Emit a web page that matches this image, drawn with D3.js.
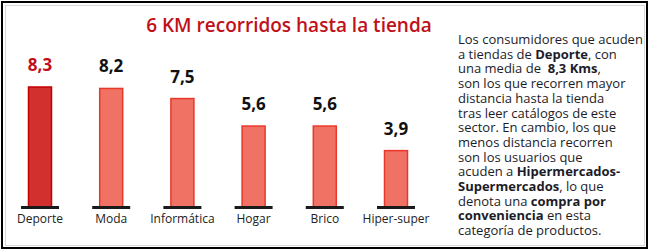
<!DOCTYPE html>
<html>
<head>
<meta charset="utf-8">
<script src="https://cdn.jsdelivr.net/npm/d3@7"></script>
<style>
  html, body { margin: 0; padding: 0; background: #fff; }
  svg { display: block; }
</style>
</head>
<body>
<svg id="chart" width="650" height="252"></svg>
<script>
const categories = ["Deporte", "Moda", "Informática", "Hogar", "Brico", "Hiper-super"];
const values = [8.3, 8.2, 7.5, 5.6, 5.6, 3.9];
const valueLabels = ["8,3", "8,2", "7,5", "5,6", "5,6", "3,9"];
const highlight = ["Deporte"];
const title = "6 KM recorridos hasta la tienda";
const noteLines = [
  [["Los consumidores que acuden", 0]],
  [["a tiendas de ", 0], ["Deporte", 1], [", con", 0]],
  [["una media de  ", 0], ["8,3 Kms", 1], [",", 0]],
  [["son los que recorren mayor", 0]],
  [["distancia hasta la tienda", 0]],
  [["tras leer catálogos de este", 0]],
  [["sector. En cambio, los que", 0]],
  [["menos distancia recorren", 0]],
  [["son los usuarios que", 0]],
  [["acuden a ", 0], ["Hipermercados-", 1]],
  [["Supermercados", 1], [", lo que", 0]],
  [["denota una ", 0], ["compra por", 1]],
  [["conveniencia", 1], [" en esta", 0]],
  [["categoría de productos.", 0]]
];

const svg = d3.select("#chart");
const font = "'Open Sans', sans-serif";

// frame
svg.append("rect").attr("x", 2).attr("y", 2).attr("width", 645).attr("height", 246)
  .attr("fill", "#fff").attr("stroke", "#000").attr("stroke-width", 2);
svg.append("rect").attr("x", 5.5).attr("y", 5.5).attr("width", 639).attr("height", 240)
  .attr("fill", "none").attr("stroke", "#d8d8d8").attr("stroke-width", 1);

// title
svg.append("text").attr("x", 289).attr("y", 32).attr("text-anchor", "middle")
  .attr("font-family", font).attr("font-weight", 600).attr("font-size", 19)
  .attr("fill", "#c0101a").text(title);

const x = d3.scalePoint().domain(categories).range([40, 396]);
const y = d3.scaleLinear().domain([0, 8.3]).range([207, 87]);
const barW = 23;

const g = svg.append("g");
categories.forEach((c, i) => {
  const hi = highlight.includes(c);
  g.append("rect")
    .attr("x", x(c) - barW / 2).attr("y", y(values[i]))
    .attr("width", barW).attr("height", y(0) - y(values[i]))
    .attr("fill", hi ? "#d22f2f" : "#ef7264")
    .attr("stroke", hi ? "#c40000" : "#e8382a").attr("stroke-width", 1.5);
  g.append("line")
    .attr("x1", x(c) - 19).attr("x2", x(c) + 19)
    .attr("y1", y(0) + 0.5).attr("y2", y(0) + 0.5)
    .attr("stroke", "#1a1a1a").attr("stroke-width", 3);
  g.append("text").attr("x", x(c)).attr("y", y(values[i]) - 16)
    .attr("text-anchor", "middle").attr("font-family", font)
    .attr("font-weight", 700).attr("font-size", 17)
    .attr("fill", hi ? "#c0101a" : "#111").text(valueLabels[i]);
  g.append("text").attr("x", x(c)).attr("y", 223)
    .attr("text-anchor", "middle").attr("font-family", font)
    .attr("font-size", 12).attr("fill", "#222").text(c);
});

// note text, one text element per line
const note = svg.append("g").attr("font-family", font).attr("font-size", 13)
  .attr("fill", "#1c1c28");
noteLines.forEach((line, li) => {
  const t = note.append("text").attr("x", 458).attr("y", 44 + li * 14.7)
    .attr("xml:space", "preserve").style("white-space", "pre");
  line.forEach(seg => {
    t.append("tspan").attr("font-weight", seg[1] ? 700 : 400).text(seg[0]);
  });
});
</script>
</body>
</html>
